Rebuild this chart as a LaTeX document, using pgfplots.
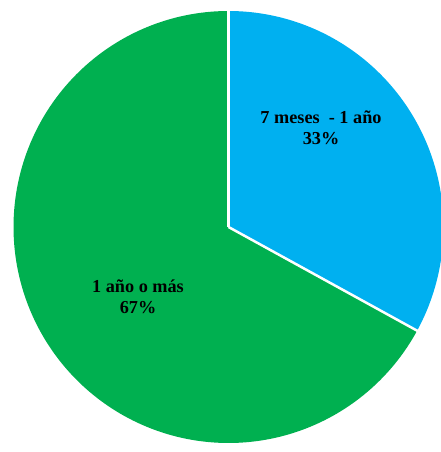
\documentclass[border=0pt]{standalone}
\usepackage{pgfplots}
\pgfplotsset{compat=1.18}
\usepackage{pgfplotstable}
\usepackage{fontspec}
\setmainfont{Liberation Serif}
\definecolor{pieblue}{HTML}{00B0F0}
\definecolor{piegreen}{HTML}{00B050}
\pgfplotstableread{
label value
a 33
b 67
}\piedata
\pgfplotstablegetelem{0}{value}\of\piedata
\let\va\pgfplotsretval
\pgfplotstablegetelem{1}{value}\of\piedata
\let\vb\pgfplotsretval
\begin{document}
\begin{tikzpicture}
\begin{axis}[
  scale only axis, x=1bp, y=1bp,
  xmin=0, xmax=441, ymin=0, ymax=452,
  hide axis, clip=true,
]
\path (axis cs:0,0) rectangle (axis cs:441,452);
\pgfmathsetmacro{\split}{90-\va*3.6}
\addplot[fill=pieblue, draw=none, domain=\split:90, samples=150, variable=\t]
  ({228.5+215*cos(\t)}, {225+216*sin(\t)}) -- (axis cs:228.5,225) -- cycle;
\addplot[fill=piegreen, draw=none, domain=-270:\split, samples=300, variable=\t]
  ({228.5+215*cos(\t)}, {225+216*sin(\t)}) -- (axis cs:228.5,225) -- cycle;
\draw[white, line width=2.5bp] (axis cs:228.5,225) -- (axis cs:228.5,452);
\draw[white, line width=2.5bp] (axis cs:228.5,225) -- ++(\split:230bp);
\node[align=center, font=\fontsize{18.3}{21}\selectfont\bfseries] at (axis cs:321,324) {7 meses\ \ - 1 año\\33\%};
\node[align=center, font=\fontsize{18.3}{21}\selectfont\bfseries] at (axis cs:138,155) {1 año o más\\67\%};
\end{axis}
\end{tikzpicture}
\end{document}
